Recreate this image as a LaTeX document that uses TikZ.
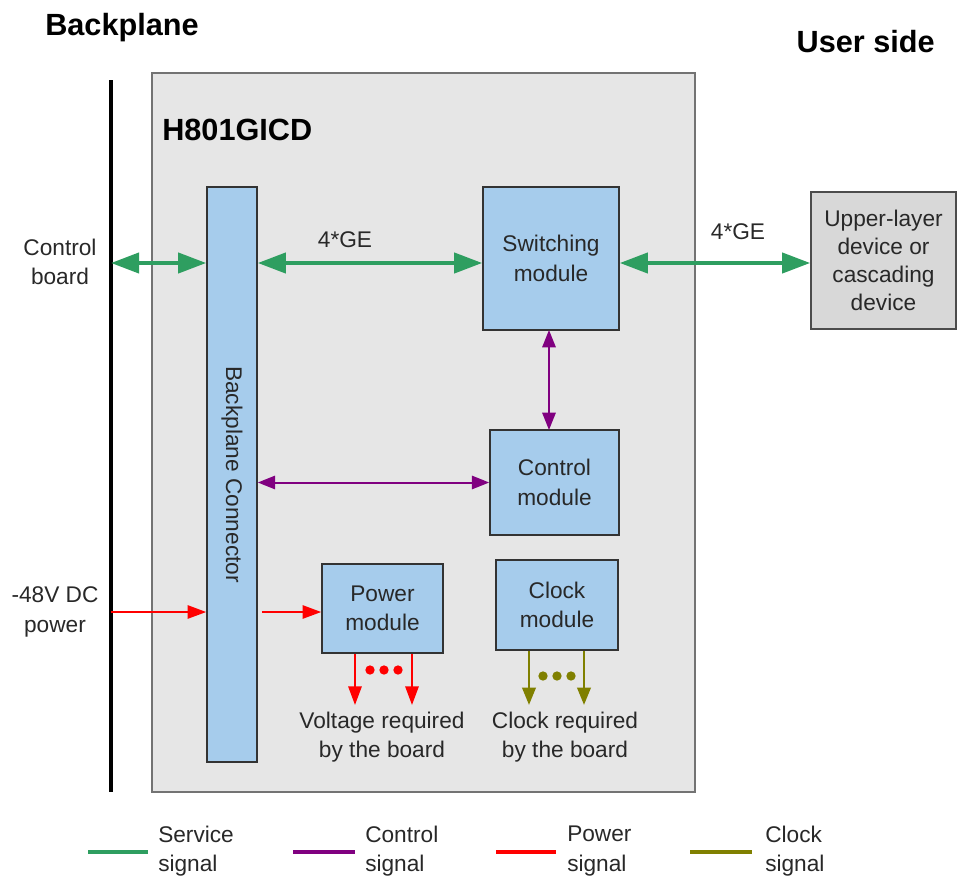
\documentclass[tikz,border=0pt]{standalone}
\usepackage{fontspec}
\setmainfont{Liberation Sans}
\usetikzlibrary{arrows.meta}
\definecolor{svc}{RGB}{46,158,96}
\definecolor{ctl}{RGB}{128,0,128}
\definecolor{pwr}{RGB}{255,0,0}
\definecolor{clk}{RGB}{128,128,0}
\definecolor{boxblue}{RGB}{166,204,236}
\definecolor{panel}{RGB}{230,230,230}
\definecolor{devgrey}{RGB}{216,216,216}
\definecolor{txt}{RGB}{40,40,40}
\begin{document}
\begin{tikzpicture}[x=0.75pt,y=-0.75pt,
  txtstyle/.style={font=\fontsize{17}{22}\selectfont, text=txt, align=center, inner sep=0pt},
  title/.style={font=\fontsize{23}{27}\selectfont\bfseries, text=black, inner sep=0pt},
  modbox/.style={draw=black!80, line width=1.2pt, fill=boxblue, txtstyle},
  svcarrow/.style={draw=svc, line width=3pt, {Triangle[length=21pt,width=15pt]}-{Triangle[length=21pt,width=15pt]}},
  ctlarrow/.style={draw=ctl, line width=1.5pt, {Triangle[length=13pt,width=10pt]}-{Triangle[length=13pt,width=10pt]}},
  pwrarrow/.style={draw=pwr, line width=1.5pt, -{Triangle[length=14pt,width=10pt]}},
  clkarrow/.style={draw=clk, line width=2pt, -{Triangle[length=13pt,width=10pt]}},
  legline/.style={line width=3pt},
  dotstyle/.style={circle, inner sep=0pt, minimum size=7pt}
]
\useasboundingbox (0,0) rectangle (958,878);

% titles
\node[title, anchor=west] (tbp) at (45,28) {Backplane};
\node[title, anchor=east] (tus) at (935,42) {User side};

% panel
\node[draw=black!55, line width=1.2pt, fill=panel, minimum width=407.25pt, minimum height=539.25pt, inner sep=0pt] (panel) at (423.5,432.5) {};
\node[title, anchor=west] (hname) at (162,130) {H801GICD};

% backplane line
\draw[line width=3pt] (111,80) coordinate (bltop) -- (111,792) coordinate (blbot);

% modules
\node[modbox, minimum width=37.5pt, minimum height=431.25pt] (bpc) at (232,474.5) {};
\node[txtstyle, rotate=-90] (bpctext) at (bpc.center) {Backplane Connector};
\node[modbox, minimum width=102pt, minimum height=107.25pt] (sw) at (551,258.5) {Switching\\module};
\node[modbox, minimum width=96.75pt, minimum height=78.75pt] (cm) at (554.5,482.5) {Control\\module};
\node[modbox, minimum width=90.75pt, minimum height=66.75pt] (pm) at (382.5,608.5) {Power\\module};
\node[modbox, minimum width=91.5pt, minimum height=67.5pt] (ck) at (557,605) {Clock\\module};
\node[draw=black!70, line width=1.2pt, fill=devgrey, txtstyle, minimum width=108.75pt, minimum height=102.75pt,
      font=\fontsize{17}{21}\selectfont] (up) at (883.5,260.5) {Upper-layer\\device or\\cascading\\device};

% side labels
\node[txtstyle] (cb) at (60,262) {Control\\board};
\node[txtstyle] (dc) at (55,612) {-48V DC\\power};

% service arrows
\coordinate (gy) at (111,263);
\draw[svcarrow] (gy) -- (gy -| bpc.west);
\draw[svcarrow] (bpc.east |- gy) -- (sw.west |- gy);
\draw[svcarrow] (sw.east |- gy) -- (up.west |- gy);
\node[txtstyle] (ge1) at (345,240) {4*GE};
\node[txtstyle] (ge2) at (738,232) {4*GE};

% control arrows
\draw[ctlarrow] (549,330) -- (549,430);
\draw[ctlarrow] (bpc.east |- cm.west) -- (cm.west);

% power arrows
\coordinate (py) at (111,612);
\draw[pwrarrow] (py) -- (py -| bpc.west);
\draw[pwrarrow] ([xshift=3pt]bpc.east |- py) -- (pm.west |- py);
\coordinate (v1) at (355,705);
\coordinate (v2) at (412,705);
\draw[pwrarrow] (v1 |- pm.south) -- (v1);
\draw[pwrarrow] (v2 |- pm.south) -- (v2);
\foreach \i/\x in {1/370,2/384,3/398} \node[dotstyle, fill=pwr] (pd\i) at (\x,670) {};
\node[txtstyle] (vt) at (382,737) {Voltage required\\by the board};

% clock arrows
\coordinate (c1) at (529,705);
\coordinate (c2) at (584,705);
\draw[clkarrow] (c1 |- ck.south) -- (c1);
\draw[clkarrow] (c2 |- ck.south) -- (c2);
\foreach \i/\x in {1/543,2/557,3/571} \node[dotstyle, fill=clk] (cd\i) at (\x,676) {};
\node[txtstyle] (ct) at (565,737) {Clock required\\by the board};

% legend
\draw[legline, draw=svc] (88,852) coordinate (l1a) -- (148,852) coordinate (l1b);
\node[txtstyle, anchor=west, align=left] (lt1) at (158,851) {Service\\signal};
\draw[legline, draw=ctl] (293,852) coordinate (l2a) -- (355,852) coordinate (l2b);
\node[txtstyle, anchor=west, align=left] (lt2) at (365,851) {Control\\signal};
\draw[legline, draw=pwr] (496,852) coordinate (l3a) -- (556,852) coordinate (l3b);
\node[txtstyle, anchor=west, align=left] (lt3) at (567,851) {Power\\signal};
\draw[legline, draw=clk] (690,852) coordinate (l4a) -- (752,852) coordinate (l4b);
\node[txtstyle, anchor=west, align=left] (lt4) at (765,851) {Clock\\signal};
\end{tikzpicture}
\end{document}
